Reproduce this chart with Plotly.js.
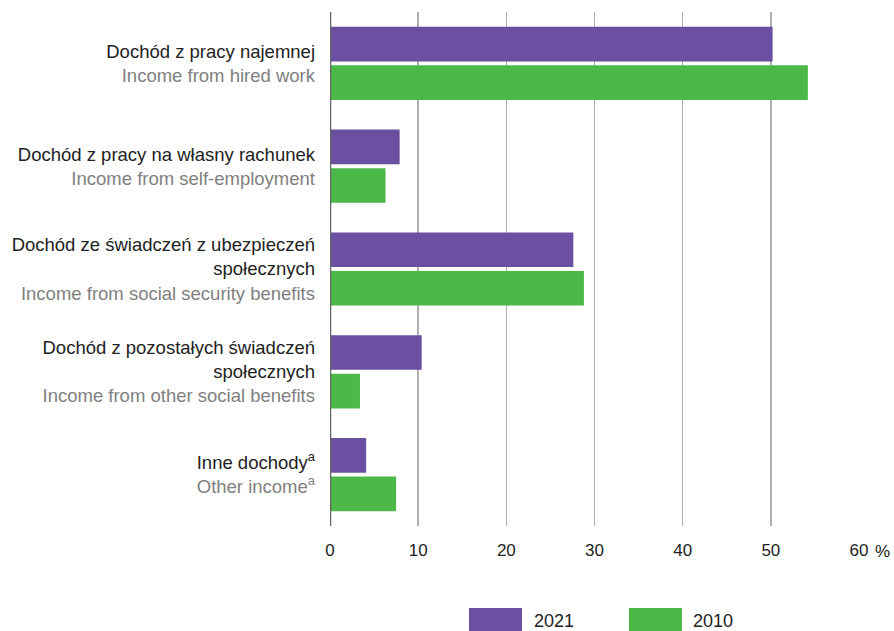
<!DOCTYPE html>
<html>
<head>
<meta charset="utf-8">
<script src="https://cdn.plot.ly/plotly-3.0.1.min.js"></script>
<style>html,body{margin:0;padding:0;background:#fff;}#chart{width:894px;height:631px;}</style>
</head>
<body>
<div id="chart"></div>
<script>
// ---- data ----
const categoriesPL = [
  "Dochód z pracy najemnej",
  "Dochód z pracy na własny rachunek",
  "Dochód ze świadczeń z ubezpieczeń<br>społecznych",
  "Dochód z pozostałych świadczeń<br>społecznych",
  "Inne dochody<sup>a</sup>"
];
const categoriesEN = [
  "Income from hired work",
  "Income from self-employment",
  "Income from social security benefits",
  "Income from other social benefits",
  "Other income<sup>a</sup>"
];
const seriesNames = ["2021", "2010"];
const values2021 = [50.2, 7.9, 27.6, 10.4, 4.1];
const values2010 = [54.2, 6.3, 28.8, 3.4, 7.5];
const xTickVals = [0, 10, 20, 30, 40, 50, 60];
const xTickText = ["0", "10", "20", "30", "40", "50", "60"];
const xUnit = "%";

// ---- styling ----
const FONT = "'Liberation Sans', Arial, sans-serif";
const colors = ["#6b4fa0", "#4cb848"];
const W = 894, H = 631;
const M = {l: 330, r: 35, t: 12, b: 105};
const pw = W - M.l - M.r, ph = H - M.t - M.b;
const px2x = p => (p - M.l) / pw;
const py2y = p => (H - M.b - p) / ph;

const cats = categoriesPL.map((pl, i) =>
  pl + '<br><span style="color:#808080">' + categoriesEN[i] + '</span>');

const traces = [values2021, values2010].map((vals, k) => ({
  type: "bar",
  orientation: "h",
  name: seriesNames[k],
  x: vals,
  y: cats,
  marker: {color: colors[k]},
  hoverinfo: "x+name",
  showlegend: false
}));

// custom legend (large swatches)
const legendItems = [
  {x0: 469, x1: 522, tx: 532},
  {x0: 629, x1: 682, tx: 691}
];
const shapes = legendItems.map((it, k) => ({
  type: "rect", xref: "paper", yref: "paper",
  x0: px2x(it.x0), x1: px2x(it.x1),
  y0: py2y(608), y1: py2y(631),
  fillcolor: colors[k], line: {width: 0}
}));
const annotations = legendItems.map((it, k) => ({
  xref: "paper", yref: "paper",
  x: px2x(it.tx), y: py2y(621),
  xanchor: "left", yanchor: "middle",
  text: seriesNames[k], showarrow: false,
  font: {size: 18, color: "#222", family: FONT}
}));
// unit after last tick label
annotations.push({
  xref: "x", yref: "paper",
  x: xTickVals[xTickVals.length - 1], y: py2y(551),
  xanchor: "left", yanchor: "middle", xshift: 14,
  text: xUnit, showarrow: false,
  font: {size: 17, color: "#222", family: FONT}
});

const layout = {
  width: W, height: H,
  margin: M,
  paper_bgcolor: "#fff",
  plot_bgcolor: "#fff",
  font: {family: FONT, size: 17, color: "#222"},
  barmode: "group",
  bargap: 0.25,
  bargroupgap: 0.1,
  xaxis: {
    range: [0, 60],
    tickvals: xTickVals,
    ticktext: xTickText,
    showgrid: true,
    gridcolor: "#b0b0b0",
    gridwidth: 1.5,
    zeroline: false,
    showline: false,
    ticks: "",
    ticklabelstandoff: 12,
    tickfont: {size: 17, color: "#222", family: FONT},
    fixedrange: true
  },
  yaxis: {
    type: "category",
    autorange: "reversed",
    showgrid: false,
    zeroline: false,
    showline: false,
    ticks: "",
    ticklabelstandoff: 14,
    tickfont: {size: 18.5, color: "#222", family: FONT},
    fixedrange: true
  },
  shapes: shapes.concat([{
    type: "line", xref: "x", yref: "paper",
    x0: 0, x1: 0, y0: 0, y1: 1,
    line: {color: "#666", width: 2.5}
  }]),
  annotations: annotations
};

Plotly.newPlot("chart", traces, layout, {displayModeBar: false, staticPlot: true});
</script>
</body>
</html>
